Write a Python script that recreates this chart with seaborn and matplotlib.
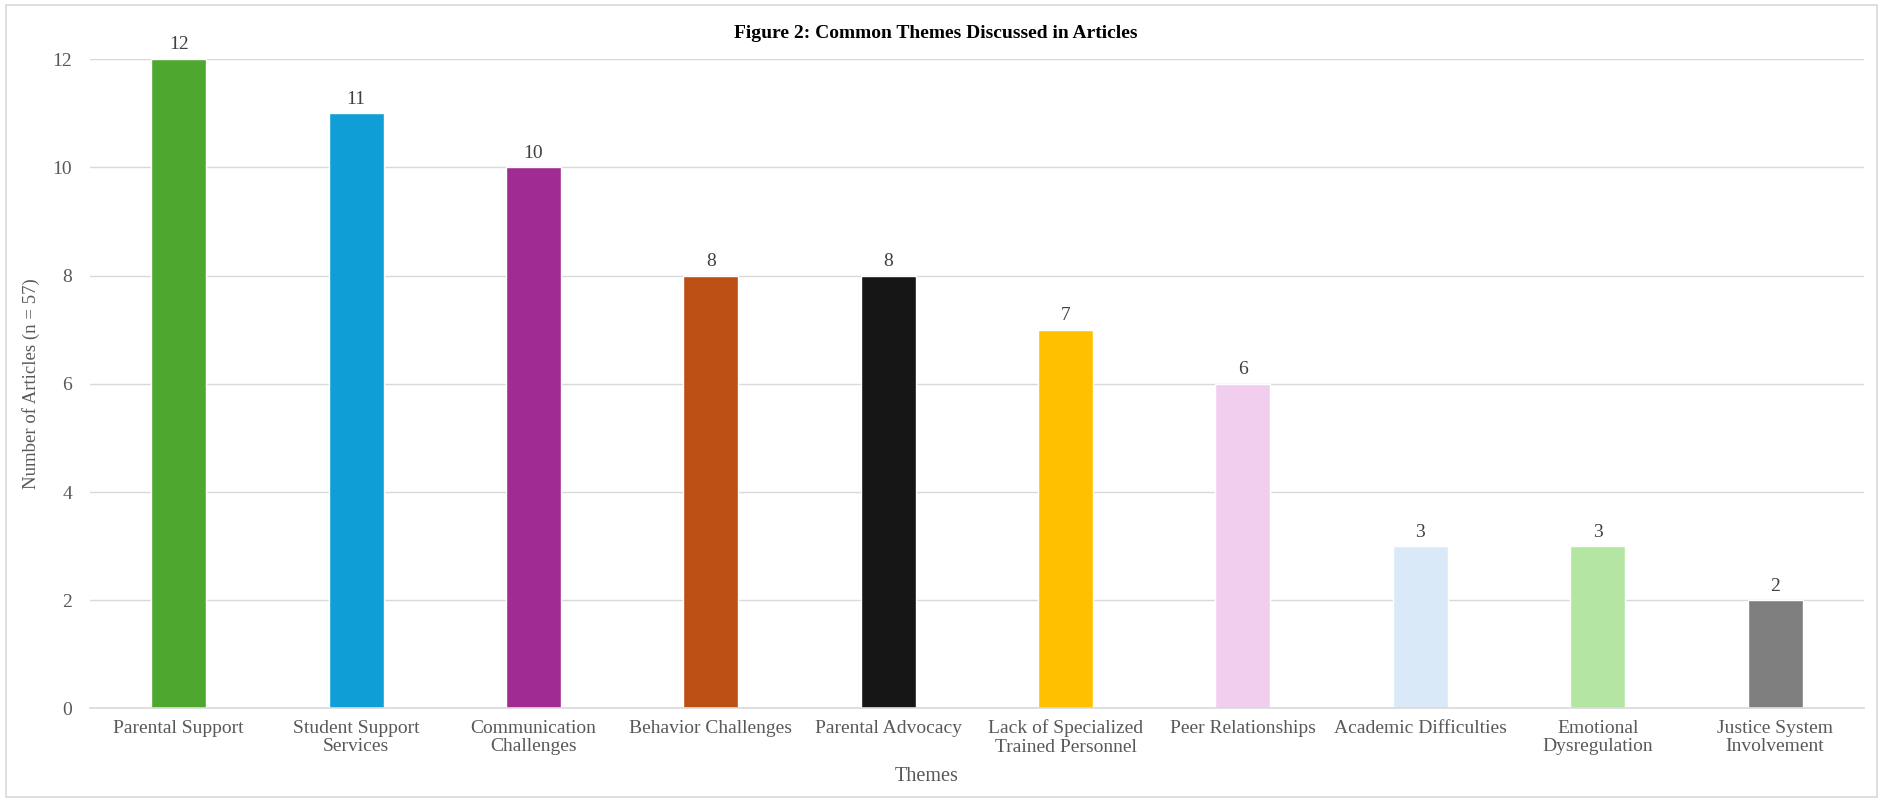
import matplotlib
matplotlib.use("Agg")
import matplotlib.pyplot as plt
import seaborn as sns
import pandas as pd
from matplotlib.patches import Rectangle

categories = ["Parental Support", "Student Support\nServices", "Communication\nChallenges",
              "Behavior Challenges", "Parental Advocacy", "Lack of Specialized\nTrained Personnel",
              "Peer Relationships", "Academic Difficulties", "Emotional\nDysregulation",
              "Justice System\nInvolvement"]
values = [12, 11, 10, 8, 8, 7, 6, 3, 3, 2]
colors = ["#4EA72E", "#0F9ED5", "#A02B93", "#BC4F14", "#161616", "#FFC000",
          "#F2CEEE", "#DAE9F8", "#B4E5A2", "#7F7F7F"]
yticks = [0, 2, 4, 6, 8, 10, 12]

sns.set_theme(style="white")
plt.rcParams['font.family'] = ['Liberation Serif', 'DejaVu Serif']

df = pd.DataFrame({"theme": categories, "count": values})

fig = plt.figure(figsize=(18.83, 8.02), dpi=100)
ax_left, ax_w = 0.0478, 0.942
ax = fig.add_axes([ax_left, 0.1166, ax_w, 0.8098])
sns.barplot(data=df, x="theme", y="count", hue="theme", palette=colors,
            legend=False, width=0.31, ax=ax, saturation=1)

ax.set_ylim(0, 12)
ax.set_yticks(yticks)
ax.yaxis.grid(True, color="#D9D9D9", linewidth=1)
ax.set_axisbelow(True)
for s in ["top", "right", "left"]:
    ax.spines[s].set_visible(False)
ax.spines["bottom"].set_color("#D9D9D9")
ax.spines["bottom"].set_linewidth(1.2)
ax.tick_params(axis="both", length=0, colors="#595959", labelsize=14)
ax.tick_params(axis="y", pad=13)
ax.tick_params(axis="x", pad=8)
for lbl in ax.get_xticklabels():
    lbl.set_linespacing(1.1)

for c in ax.containers:
    ax.bar_label(c, fmt="%d", padding=4, fontsize=14, color="#404040")

ax.set_ylabel("Number of Articles (n = 57)", fontsize=13.5, color="#595959")
ax.yaxis.set_label_coords(-0.028, 0.5)
ax.set_xlabel("Themes", fontsize=14.5, color="#595959")
x_fig = 0.492
ax.xaxis.set_label_coords((x_fig - ax_left) / ax_w, -0.09)

fig.text(0.497, 0.958, "Figure 2: Common Themes Discussed in Articles", ha="center", va="center",
         fontsize=14, fontweight="bold", color="#000000")

fig.patches.append(Rectangle((0.003, 0.006), 0.994, 0.988, transform=fig.transFigure,
                             fill=False, edgecolor="#D9D9D9", linewidth=1.2))

fig.savefig("out.png", dpi=100, facecolor="white")
